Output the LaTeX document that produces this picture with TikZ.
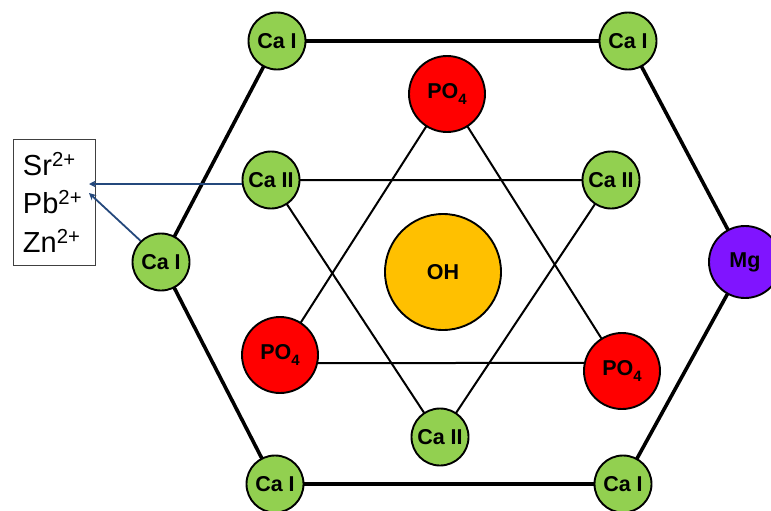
\documentclass[tikz,border=0pt]{standalone}
\usepackage{fontspec}
\setmainfont{Liberation Sans}
\usetikzlibrary{arrows.meta}
\pgfdeclarelayer{bg}
\pgfsetlayers{bg,main}
\definecolor{cagreen}{RGB}{146,208,80}
\definecolor{ohorange}{RGB}{255,192,0}
\definecolor{mgpurple}{RGB}{128,20,255}
\definecolor{arrowblue}{RGB}{36,72,124}
\newcommand{\pofour}{PO\raisebox{-0.45ex}{\fontsize{15}{15}\selectfont 4}}
\begin{document}
\begin{tikzpicture}[x=1pt,y=-1pt,
  atom/.style={circle, draw=black, line width=1.9pt, inner sep=0pt, font=\fontsize{21.5}{21.5}\selectfont\bfseries},
  ca/.style={atom, fill=cagreen, minimum size=57pt},
  po/.style={atom, fill=red, minimum size=76pt},
  hexline/.style={line width=3.6pt},
  starline/.style={line width=2pt},
  arr/.style={draw=arrowblue, line width=1.8pt, -{Stealth[length=7pt,width=7pt]}}]
\useasboundingbox (0,0) rectangle (771,511);
% outer hexagon atoms
\node[ca] (caTL) at (277,41) {Ca I};
\node[ca] (caTR) at (628,41) {Ca I};
\node[ca] (caL) at (161,262) {Ca I};
\node[atom, fill=mgpurple, minimum size=72pt] (mg) at (745,262) {Mg};
\node[ca] (caBL) at (275,484) {Ca I};
\node[ca] (caBR) at (623,484) {Ca I};
% PO4 triangle
\node[po] (pT) at (447,94) {\pofour};
\node[po] (pL) at (280,355) {\pofour};
\node[po] (pR) at (622,371) {\pofour};
% Ca II triangle
\node[ca] (cL) at (271,180) {Ca II};
\node[ca] (cR) at (611,180) {Ca II};
\node[ca] (cB) at (440,437) {Ca II};
% OH
\node[atom, fill=ohorange, minimum size=116pt] (oh) at (443,272) {OH};
% substitution box
\node[draw=black!75, line width=0.8pt, align=left, font=\fontsize{29}{38.5}\selectfont,
      inner xsep=10pt, inner ysep=0pt, minimum height=126pt, text width=62pt] (box) at (54,202)
      {Sr\textsuperscript{2+}\\Pb\textsuperscript{2+}\\Zn\textsuperscript{2+}};
\coordinate (t1) at (89,184);
\coordinate (t2) at (89,193);
\begin{pgfonlayer}{bg}
\draw[hexline, line join=round] (caTL.center) -- (caTR.center) -- (mg.center) -- (caBR.center)
   -- (caBL.center) -- (caL.center) -- cycle;
\draw[starline] (pT.center) -- (pL.center);
\draw[starline] (pT.center) -- (pR.center);
\draw[starline] (pL.-12) -- (pR.168);
\draw[starline] (cL.center) -- (cR.center) -- (cB.center) -- cycle;
\end{pgfonlayer}
\draw[arr] (cL.188) -- (t1);
\draw[arr] (caL.134) -- (t2);
\end{tikzpicture}
\end{document}
